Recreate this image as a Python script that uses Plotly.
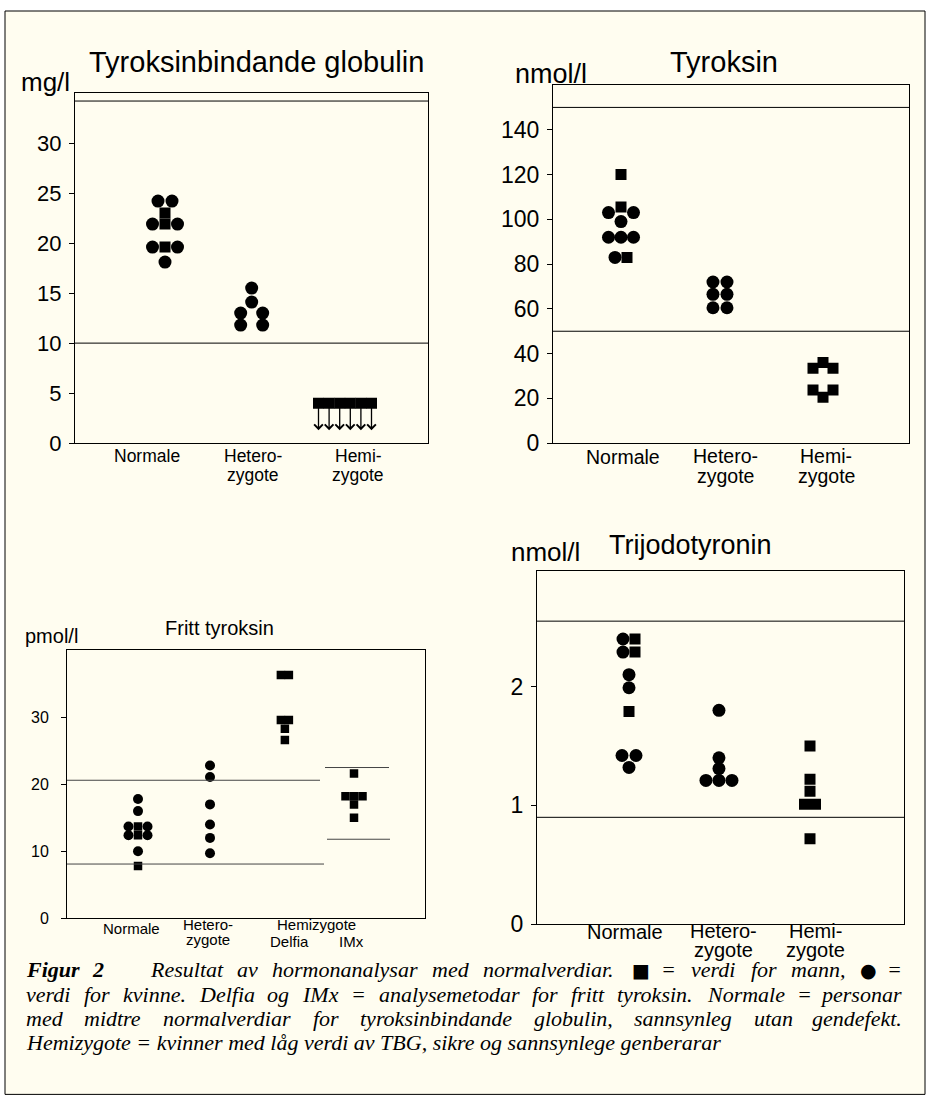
import plotly.graph_objects as go

W, H = 930, 1116

# ======================= DATA =======================
# Panel A: Tyroksinbindande globulin (mg/l)
TBG_NORMALE_VAL = [24.2, 24.2, 23.0, 21.9, 21.9, 21.9, 19.6, 19.6, 19.6, 18.1]
TBG_NORMALE_SEX = ["K", "K", "M", "K", "M", "K", "K", "M", "K", "K"]
TBG_HETERO_VAL = [15.5, 14.1, 13.0, 13.0, 11.8, 11.8]
TBG_HETERO_SEX = ["K", "K", "K", "K", "K", "K"]
TBG_HEMI_VAL = [4.0, 4.0, 4.0, 4.0, 4.0, 4.0]      # under detection limit
TBG_HEMI_SEX = ["M", "M", "M", "M", "M", "M"]
TBG_HEMI_ARROW_TO = 1.3
TBG_REF = [10.0, 34.2]
TBG_TICKS = [0, 5, 10, 15, 20, 25, 30]

# Panel B: Tyroksin (nmol/l)
T4_NORMALE_VAL = [120, 105.5, 103, 103, 99, 92, 92, 92, 83, 83]
T4_NORMALE_SEX = ["M", "M", "K", "K", "K", "K", "K", "K", "K", "M"]
T4_HETERO_VAL = [72, 72, 66.5, 66.5, 60.5, 60.5]
T4_HETERO_SEX = ["K", "K", "K", "K", "K", "K"]
T4_HEMI_VAL = [36, 33.5, 33.5, 23.7, 23.7, 20.5]
T4_HEMI_SEX = ["M", "M", "M", "M", "M", "M"]
T4_REF = [50, 150]
T4_TICKS = [0, 20, 40, 60, 80, 100, 120, 140]

# Panel C: Fritt tyroksin (pmol/l)
FT4_NORMALE_VAL = [17.8, 16.0, 13.7, 13.7, 13.7, 12.4, 12.4, 12.4, 10.0, 7.8]
FT4_NORMALE_SEX = ["K", "K", "K", "M", "K", "K", "M", "K", "K", "M"]
FT4_HETERO_VAL = [22.8, 21.1, 17.0, 14.0, 12.0, 9.7]
FT4_HETERO_SEX = ["K", "K", "K", "K", "K", "K"]
FT4_DELFIA_VAL = [36.3, 36.3, 29.6, 29.6, 28.3, 26.6]
FT4_DELFIA_SEX = ["M", "M", "M", "M", "M", "M"]
FT4_IMX_VAL = [21.6, 18.2, 18.2, 18.2, 17.0, 15.0]
FT4_IMX_SEX = ["M", "M", "M", "M", "M", "M"]
FT4_REF_DELFIA = [8.1, 20.6]
FT4_REF_IMX = [11.8, 22.5]
FT4_TICKS = [0, 10, 20, 30]

# Panel D: Trijodotyronin (nmol/l)
T3_NORMALE_VAL = [2.40, 2.40, 2.29, 2.29, 2.10, 1.99, 1.79, 1.42, 1.42, 1.32]
T3_NORMALE_SEX = ["K", "M", "K", "M", "K", "K", "M", "K", "K", "K"]
T3_HETERO_VAL = [1.80, 1.40, 1.31, 1.21, 1.21, 1.21]
T3_HETERO_SEX = ["K", "K", "K", "K", "K", "K"]
T3_HEMI_VAL = [1.50, 1.22, 1.12, 1.01, 1.01, 0.72]
T3_HEMI_SEX = ["M", "M", "M", "M", "M", "M"]
T3_REF = [0.9, 2.55]
T3_TICKS = [0, 1, 2]

CAPTION_LINES = [
    "Figur 2 Resultat av hormonanalysar med normalverdiar. ■ = verdi for mann, ● =",
    "verdi for kvinne. Delfia og IMx = analysemetodar for fritt tyroksin. Normale = personar",
    "med midtre normalverdiar for tyroksinbindande globulin, sannsynleg utan gendefekt.",
    "Hemizygote = kvinner med låg verdi av TBG, sikre og sannsynlege genberarar",
]
CAPTION_BOLD = ["Figur", "2"]

# ======================= LAYOUT (pixel geometry) =======================
SANS = "Liberation Sans, Arial, sans-serif"
SERIF = "Liberation Serif, Times New Roman, serif"
BG = "#FFFDF0"
KY = 1 / 0.988   # vertical pixel calibration

PANELS = {
    "A": dict(ax=1, box=(75, 428, 93, 443), yr=[0, 35], x0=75, unit=90),
    "B": dict(ax=2, box=(553, 909, 85, 443), yr=[0, 160], x0=520, unit=101),
    "C": dict(ax=3, box=(67, 425, 650, 918), yr=[0, 40], x0=66, unit=72),
    "D": dict(ax=4, box=(537, 904, 571, 924), yr=[0, 2.97], x0=538.5, unit=90.5),
}

GROUPS = {
    "A": [
        (TBG_NORMALE_VAL, TBG_NORMALE_SEX, 1.0, [-7, 7, 0, -12.5, 0, 12.5, -12.5, 0, 12.5, 0]),
        (TBG_HETERO_VAL, TBG_HETERO_SEX, 1.963, [0, 0, -11, 11, -11, 11]),
        (TBG_HEMI_VAL, TBG_HEMI_SEX, 3.0, [-26.5, -15.9, -5.3, 5.3, 15.9, 26.5]),
    ],
    "B": [
        (T4_NORMALE_VAL, T4_NORMALE_SEX, 1.0, [0, 0, -12.5, 12.5, 0, -12.5, 0, 12.5, -6, 6]),
        (T4_HETERO_VAL, T4_HETERO_SEX, 1.98, [-7, 7, -7, 7, -7, 7]),
        (T4_HEMI_VAL, T4_HEMI_SEX, 3.0, [0, -10, 10, -10, 10, 0]),
    ],
    "C": [
        (FT4_NORMALE_VAL, FT4_NORMALE_SEX, 1.0, [0, 0, -9.5, 0, 9.5, -9.5, 0, 9.5, 0, 0]),
        (FT4_HETERO_VAL, FT4_HETERO_SEX, 2.0, [0, 0, 0, 0, 0, 0]),
        (FT4_DELFIA_VAL, FT4_DELFIA_SEX, 3.04, [-4, 4, -4, 4, 0, 0]),
        (FT4_IMX_VAL, FT4_IMX_SEX, 4.0, [0, -8.5, 0, 8.5, 0, 0]),
    ],
    "D": [
        (T3_NORMALE_VAL, T3_NORMALE_SEX, 1.0, [-6, 6, -6, 6, 0, 0, 0, -7, 7, 0]),
        (T3_HETERO_VAL, T3_HETERO_SEX, 1.994, [0, 0, 0, -13, 0, 13]),
        (T3_HEMI_VAL, T3_HEMI_SEX, 3.0, [0, 0, 0, -5.5, 5.5, 0]),
    ],
}
MSIZE = {"A": (13, 11), "B": (13, 11), "C": (10, 8.5), "D": (13, 11)}
TICKSIZE = {"A": 22, "B": 23, "C": 16, "D": 23}
TICKSTANDOFF = {"A": 3, "B": 3, "C": 9, "D": 3}
YTICKS = {"A": TBG_TICKS, "B": T4_TICKS, "C": FT4_TICKS, "D": T3_TICKS}


def px(x):
    return x / W


def py(y):
    return 1 - y * KY / H


def xa(n):
    return "x" if n == 1 else "x%d" % n


def ya(n):
    return "y" if n == 1 else "y%d" % n


fig = go.Figure()
layout = dict(
    width=W, height=H, margin=dict(l=0, r=0, t=0, b=0),
    paper_bgcolor="white", plot_bgcolor=BG, showlegend=False,
    font=dict(family=SANS, color="black"),
)
shapes = [dict(type="rect", xref="paper", yref="paper", x0=px(5), x1=px(925),
               y0=py(1094), y1=py(11), fillcolor=BG, line=dict(color="black", width=1),
               layer="below")]
annotations = []

for key, p in PANELS.items():
    n = p["ax"]
    bx0, bx1, by0, by1 = p["box"]
    xr = [(bx0 - p["x0"]) / p["unit"], (bx1 - p["x0"]) / p["unit"]]
    sfx = "" if n == 1 else str(n)
    layout["xaxis" + sfx] = dict(domain=[px(bx0), px(bx1)], range=xr, anchor=ya(n),
                                 showticklabels=False, ticks="", showgrid=False, zeroline=False,
                                 showline=True, mirror=True, linecolor="black", linewidth=1)
    layout["yaxis" + sfx] = dict(domain=[py(by1), py(by0)], range=p["yr"], anchor=xa(n),
                                 tickvals=YTICKS[key], ticks="outside", ticklen=5,
                                 ticklabelstandoff=TICKSTANDOFF[key],
                                 tickcolor="black", tickfont=dict(size=TICKSIZE[key], family=SANS),
                                 showgrid=False, zeroline=False, showline=True, mirror=True,
                                 linecolor="black", linewidth=1)
    csize, ssize = MSIZE[key]
    for vals, sex, pos, dxs in GROUPS[key]:
        for want, sym, size in (("K", "circle", csize), ("M", "square", ssize)):
            xs = [pos + d / p["unit"] for v, s, d in zip(vals, sex, dxs) if s == want]
            ys = [v for v, s in zip(vals, sex) if s == want]
            if xs:
                fig.add_trace(go.Scatter(x=xs, y=ys, mode="markers", xaxis=xa(n),
                                         yaxis=ya(n), hoverinfo="skip",
                                         marker=dict(symbol=sym, size=size, color="black",
                                                     line=dict(width=0))))

for key, refs in (("A", TBG_REF), ("B", T4_REF), ("D", T3_REF)):
    n = PANELS[key]["ax"]
    for r in refs:
        shapes.append(dict(type="line", xref=xa(n) + " domain", yref=ya(n),
                           x0=0, x1=1, y0=r, y1=r, line=dict(color="black", width=1)))
uc, oc = PANELS["C"]["unit"], PANELS["C"]["x0"]
for r, (a, b) in zip(FT4_REF_DELFIA, ((67, 324), (67, 320))):
    shapes.append(dict(type="line", xref="x3", yref="y3", x0=(a - oc) / uc, x1=(b - oc) / uc,
                       y0=r, y1=r, line=dict(color="#444", width=1)))
for r, (a, b) in zip(FT4_REF_IMX, ((327, 390), (325, 389))):
    shapes.append(dict(type="line", xref="x3", yref="y3", x0=(a - oc) / uc, x1=(b - oc) / uc,
                       y0=r, y1=r, line=dict(color="#444", width=1)))

pa = PANELS["A"]
vals, sex, pos, dxs = GROUPS["A"][2]
for v, d in zip(vals, dxs):
    xx = pos + d / pa["unit"]
    annotations.append(dict(x=xx, y=TBG_HEMI_ARROW_TO, ax=xx, ay=v, xref="x", yref="y",
                            axref="x", ayref="y", text="", showarrow=True, arrowhead=4,
                            arrowsize=1.3, arrowwidth=1.3, arrowcolor="black", standoff=0))


def txt(text, x, y, size, xanchor="center", family=SANS):
    annotations.append(dict(text=text, x=px(x), y=py(y), xref="paper", yref="paper",
                            showarrow=False, xanchor=xanchor, yanchor="middle", borderpad=0,
                            font=dict(size=size, family=family, color="black")))


txt("Tyroksinbindande globulin", 256, 62, 29)
txt("mg/l", 20, 82, 26, "left")
txt("Tyroksin", 724, 62, 29)
txt("nmol/l", 514, 74, 27, "left")
txt("Fritt tyroksin", 219, 628, 20)
txt("pmol/l", 24, 636, 20, "left")
txt("Trijodotyronin", 690, 545, 27)
txt("nmol/l", 510, 552, 26, "left")

txt("Normale", 147, 456, 17.5)
for x, l1, l2 in ((253, "Hetero-", "zygote"), (358, "Hemi-", "zygote")):
    txt(l1, x, 456, 17.5)
    txt(l2, x, 475, 17.5)
txt("Normale", 623, 457, 19.5)
for x, l1, l2 in ((725, "Hetero-", "zygote"), (826, "Hemi-", "zygote")):
    txt(l1, x, 456, 19.5)
    txt(l2, x, 476, 19.5)
txt("Normale", 625, 932, 20)
for x, l1, l2 in ((723, "Hetero-", "zygote"), (815, "Hemi-", "zygote")):
    txt(l1, x, 930.5, 20)
    txt(l2, x, 950, 20)
txt("Normale", 131, 928, 15)
txt("Hetero-", 208, 924, 15)
txt("zygote", 208, 939, 15)
txt("Hemizygote", 316, 924, 15)
txt("Delfia", 289, 941, 15)
txt("IMx", 351, 941, 15)

# ---- caption (justified word by word) ----
TI = {'a': 500, 'b': 500, 'c': 444, 'd': 500, 'e': 444, 'f': 278, 'g': 500, 'h': 500,
      'i': 278, 'j': 278, 'k': 444, 'l': 278, 'm': 722, 'n': 500, 'o': 500, 'p': 500,
      'q': 500, 'r': 389, 's': 389, 't': 278, 'u': 500, 'v': 444, 'w': 667, 'x': 444,
      'y': 444, 'z': 389, 'å': 500, 'R': 611, 'D': 722, 'I': 333, 'M': 833, 'N': 667,
      'T': 556, 'B': 611, 'G': 722, 'H': 722, 'F': 667, '.': 250, ',': 250, '=': 675,
      '2': 500, '-': 333, '■': 770, '●': 770}
CAP_SIZE = 22
SYM_SIZE = 19
CAP_L, CAP_R = 25, 903


def wwidth(w):
    s = SYM_SIZE if w in ("■", "●") else CAP_SIZE
    return sum(TI.get(c, 500) for c in w) * s / 1000.0


def fmt(w):
    if w in ("■", "●"):
        return w
    if w in CAPTION_BOLD:
        return "<b><i>%s</i></b>" % w
    return "<i>%s</i>" % w


for i, line in enumerate(CAPTION_LINES):
    yy = py(969.5 + 24.2 * i)
    words = line.split(" ")
    if i == len(CAPTION_LINES) - 1:
        annotations.append(dict(text="<i>" + line + "</i>", x=px(CAP_L), y=yy, xref="paper",
                                yref="paper", showarrow=False, xanchor="left", yanchor="middle",
                                borderpad=0,
                                font=dict(size=CAP_SIZE, family=SERIF, color="black")))
        continue
    weights = [1.0] * (len(words) - 1)
    if words[0] == "Figur":
        weights[1] = 3.2
    widths = [wwidth(w) for w in words]
    gap = (CAP_R - CAP_L - sum(widths)) / sum(weights)
    x = CAP_L
    for j, w in enumerate(words):
        last = j == len(words) - 1
        sym = w in ("■", "●")
        annotations.append(dict(text=fmt(w), x=px(CAP_R if last else x), y=yy, xref="paper",
                                yref="paper", showarrow=False,
                                xanchor="right" if last else "left", yanchor="middle",
                                borderpad=0,
                                font=dict(size=SYM_SIZE if sym else CAP_SIZE,
                                          family="DejaVu Sans" if sym else SERIF,
                                          color="black")))
        if not last:
            x += widths[j] + gap * weights[j]

layout["shapes"] = shapes
layout["annotations"] = annotations
fig.update_layout(**layout)
fig.write_html("out.html", config={"displayModeBar": False},
               post_script="document.body.style.margin='0';")
